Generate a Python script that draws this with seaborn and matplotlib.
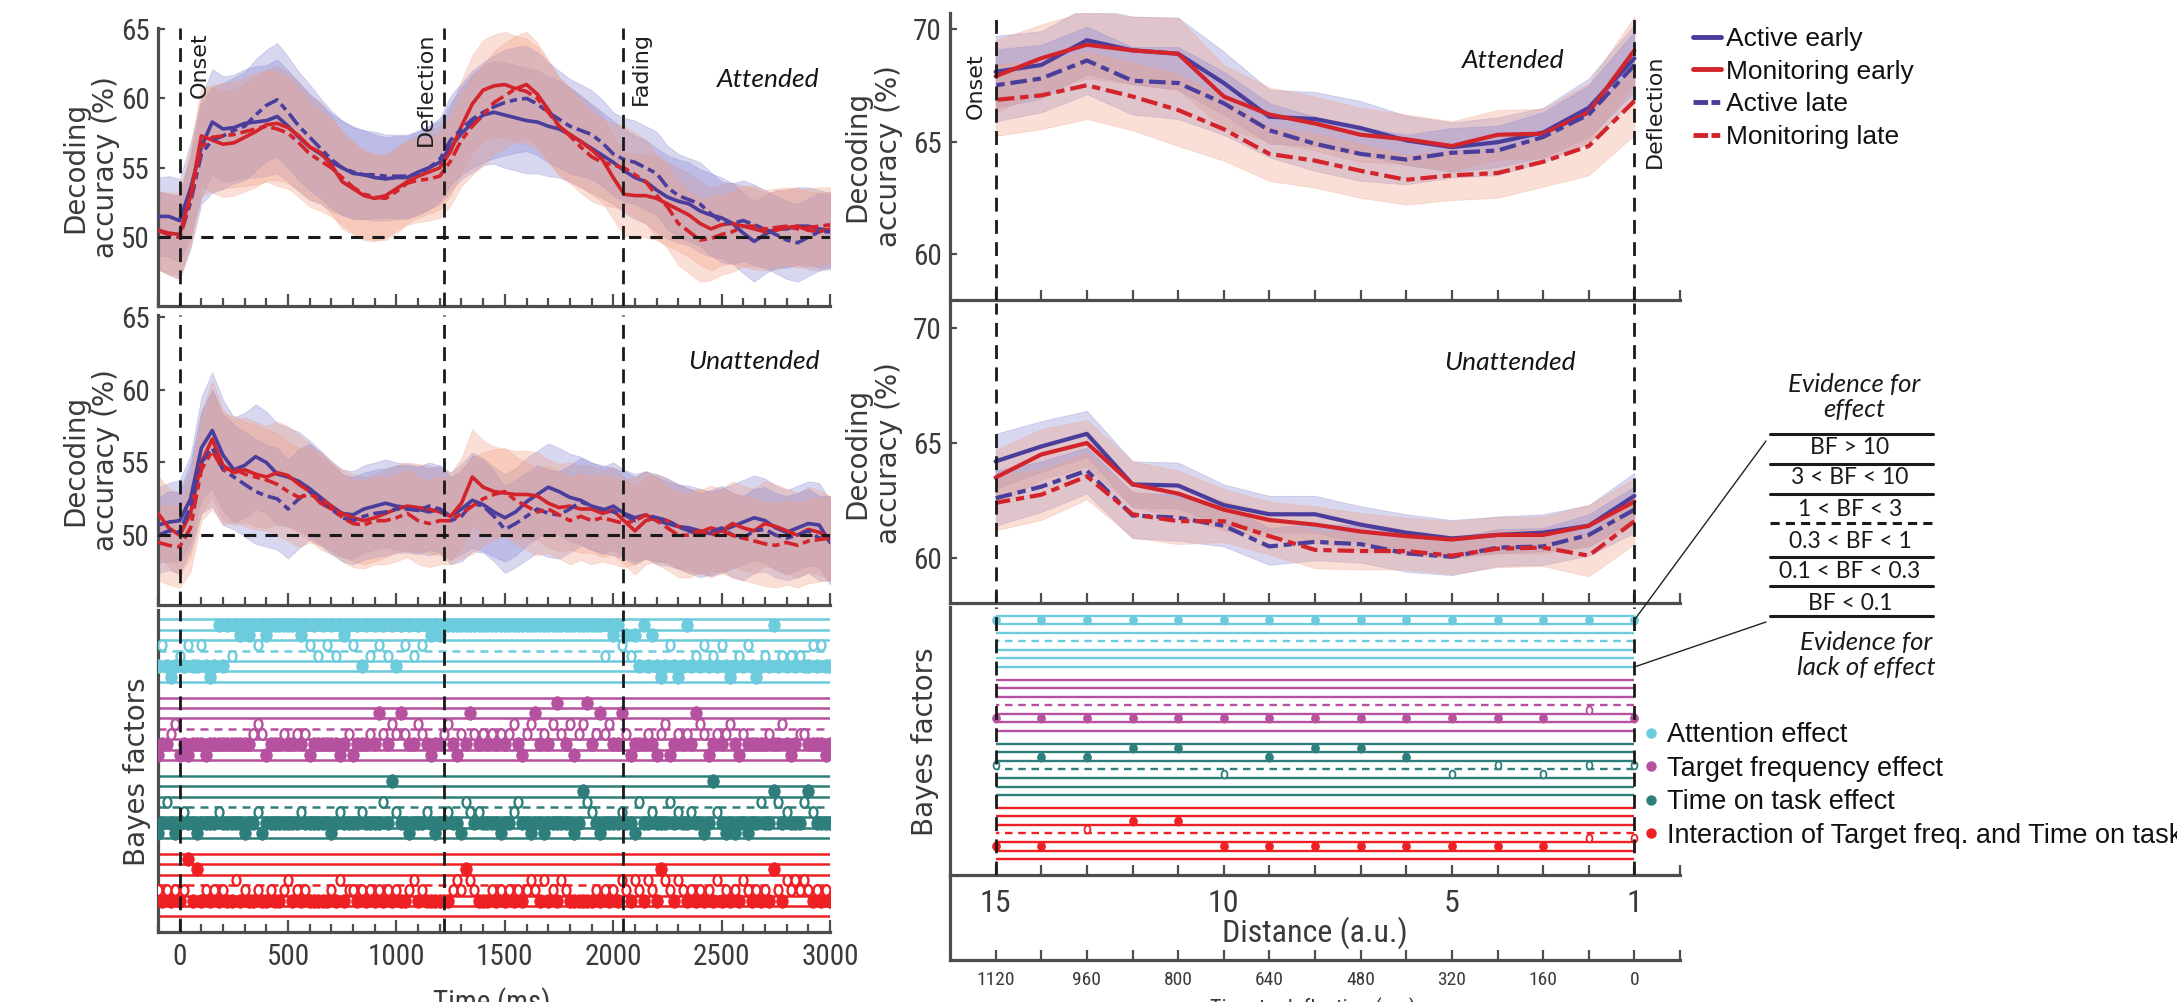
import numpy as np
import pandas as pd
import matplotlib
matplotlib.use("Agg")
import matplotlib.pyplot as plt
from matplotlib import font_manager
from matplotlib.path import Path
from matplotlib.lines import Line2D
from matplotlib.patches import ConnectionPatch
from matplotlib.ticker import MultipleLocator
import seaborn as sns

# ---------------------------------------------------------------- data
# decoding accuracy (%) over time, 50 ms grid from -100 to 3000 ms
time_ms = np.arange(-100, 3001, 50)

att_active_early = [51.5, 51.5, 51.2, 53.5, 56.5, 58.3, 57.8, 57.9, 58.2, 58.3,
                    58.4, 58.7, 58.0, 57.2, 56.5, 56.0, 55.4, 55.0, 54.6, 54.5,
                    54.3, 54.2, 54.3, 54.3, 54.7, 55.0, 55.4, 56.5, 57.5, 58.2,
                    58.8, 59.0, 58.8, 58.6, 58.4, 58.3, 58.0, 57.8, 57.4, 56.9,
                    56.4, 55.9, 55.4, 54.8, 54.3, 54.0, 53.4, 52.9, 52.6, 52.4,
                    51.9, 51.6, 51.4, 51.0, 50.3, 49.7, 50.2, 50.6, 50.6, 50.8,
                    50.8, 50.6, 50.5]
att_monitor_early = [50.5, 50.3, 50.2, 53.0, 57.3, 57.0, 56.7, 56.8, 57.2, 57.6,
                     58.1, 58.2, 57.9, 57.3, 56.5, 56.1, 55.2, 54.0, 53.5, 53.0,
                     52.8, 53.0, 53.5, 54.0, 54.4, 54.7, 55.0, 56.2, 58.0, 59.6,
                     60.6, 60.9, 61.0, 60.7, 61.0, 60.3, 59.2, 58.0, 57.4, 56.9,
                     56.3, 55.6, 54.3, 53.1, 53.0, 53.0, 52.8, 52.4, 52.0, 51.6,
                     51.0, 50.6, 50.9, 51.0, 50.8, 50.6, 50.4, 50.5, 50.7, 50.8,
                     50.5, 50.4, 50.6]
att_active_late = [50.5, 50.2, 50.0, 52.5, 56.0, 57.0, 57.3, 57.7, 58.0, 58.8,
                   59.5, 59.9, 59.0, 58.0, 57.2, 56.4, 55.6, 55.0, 54.7, 54.5,
                   54.5, 54.4, 54.4, 54.4, 54.6, 55.0, 55.6, 57.0, 57.8, 58.5,
                   59.0, 59.4, 59.7, 59.9, 60.0, 59.6, 59.0, 58.5, 58.0, 57.7,
                   57.4, 56.8, 56.0, 55.6, 55.4, 55.0, 54.6, 53.6, 53.0, 52.7,
                   52.4, 51.7, 51.1, 51.0, 51.2, 50.9, 50.6, 50.2, 49.8, 49.6,
                   50.0, 50.4, 50.4]
att_monitor_late = [50.5, 50.2, 50.0, 52.8, 56.5, 57.2, 57.3, 57.4, 57.6, 57.8,
                    58.0, 57.8, 57.5, 56.8, 56.0, 55.5, 55.0, 54.3, 53.6, 53.1,
                    52.9, 52.8, 53.3, 53.9, 54.1, 54.2, 54.4, 55.5, 57.0, 58.0,
                    58.8, 59.7, 60.2, 60.7, 60.5, 60.0, 59.0, 58.0, 57.3, 56.5,
                    55.8, 55.4, 55.2, 55.0, 54.5, 54.0, 53.0, 52.2, 51.0, 50.4,
                    49.8, 49.9, 50.2, 50.4, 50.8, 50.8, 50.6, 50.7, 50.8, 50.6,
                    50.7, 50.8, 50.9]
att_ci = [2.8, 2.9, 3.0, 3.3, 3.6, 3.8, 3.8, 3.8, 3.9, 4.0,
          4.0, 4.1, 4.0, 3.9, 3.8, 3.6, 3.5, 3.4, 3.3, 3.2,
          3.1, 3.0, 3.0, 3.0, 3.0, 3.0, 3.0, 3.2, 3.3, 3.5,
          3.6, 3.7, 3.8, 3.8, 3.8, 3.7, 3.6, 3.5, 3.4, 3.3,
          3.2, 3.1, 3.0, 3.0, 3.0, 3.0, 3.0, 3.0, 3.0, 3.0,
          3.0, 3.0, 2.9, 2.9, 2.9, 2.9, 2.8, 2.8, 2.8, 2.8,
          2.8, 2.8, 2.7]

una_active_early = [50.7, 50.9, 51.0, 52.5, 56.0, 57.2, 55.5, 54.5, 54.8, 55.4,
                    55.0, 54.2, 54.0, 53.7, 53.2, 52.6, 52.0, 51.5, 51.4, 51.8,
                    52.0, 52.2, 52.0, 51.9, 51.8, 51.6, 51.8, 51.3, 51.8, 52.4,
                    52.1, 51.6, 51.2, 51.6, 52.3, 52.8, 53.3, 53.0, 52.6, 52.4,
                    52.0, 51.7, 52.0, 51.5, 51.2, 51.4, 51.0, 50.8, 50.6, 50.5,
                    50.3, 50.1, 50.3, 50.6, 50.9, 51.2, 51.0, 50.5, 50.2, 50.5,
                    50.8, 50.7, 49.5]
una_monitor_early = [51.5, 50.5, 50.0, 51.5, 55.0, 56.6, 54.8, 54.3, 54.5, 54.2,
                     54.0, 54.3, 54.1, 53.5, 53.0, 52.2, 51.8, 51.5, 51.2, 51.0,
                     51.2, 51.5, 51.8, 52.0, 51.9, 51.8, 51.6, 51.3, 52.2, 54.0,
                     53.3, 53.0, 52.9, 52.8, 52.8, 52.7, 52.2, 51.9, 52.0, 51.8,
                     51.8, 51.5, 51.7, 51.0, 50.3, 51.0, 51.2, 51.0, 50.6, 50.3,
                     50.2, 50.5, 50.3, 50.8, 50.5, 50.3, 50.8, 50.6, 50.3, 50.0,
                     50.4, 50.2, 49.8]
una_active_late = [50.0, 50.3, 50.2, 52.0, 55.0, 56.0, 54.5, 54.0, 53.5, 53.0,
                   52.7, 52.5, 51.8, 52.5, 53.0, 52.5, 51.8, 51.2, 51.0, 51.3,
                   51.5, 51.6, 51.8, 51.8, 51.7, 52.0, 51.8, 51.0, 51.3, 52.2,
                   52.0, 51.3, 50.4, 50.8, 51.3, 51.8, 51.5, 51.4, 51.8, 52.3,
                   52.0, 51.8, 51.6, 51.4, 51.0, 51.4, 51.2, 51.0, 50.6, 50.3,
                   50.0, 50.2, 50.5, 50.0, 49.8, 50.3, 50.4, 50.0, 49.8, 50.0,
                   50.3, 49.8, 49.8]
una_monitor_late = [49.5, 49.3, 49.2, 50.5, 54.5, 55.8, 54.5, 54.6, 54.2, 54.0,
                    53.8, 53.5, 53.0, 52.6, 52.8, 52.5, 52.0, 51.2, 50.8, 50.7,
                    51.0, 51.0, 51.2, 51.5, 51.0, 50.8, 51.0, 51.0, 51.5, 52.0,
                    52.5, 52.8, 53.0, 52.4, 52.0, 51.6, 51.8, 51.4, 51.0, 51.3,
                    51.0, 51.2, 51.0, 50.8, 51.0, 51.4, 51.0, 50.5, 50.0, 50.0,
                    50.3, 50.0, 50.3, 50.0, 49.8, 49.6, 49.4, 49.3, 49.5, 49.3,
                    49.6, 49.7, 49.8]
una_ci = [2.6, 2.7, 2.8, 3.0, 3.5, 4.0, 3.8, 3.6, 3.6, 3.6,
          3.5, 3.5, 3.4, 3.4, 3.3, 3.2, 3.1, 3.0, 3.0, 3.0,
          3.0, 3.0, 3.0, 3.0, 3.0, 3.0, 3.0, 3.0, 3.1, 3.3,
          3.2, 3.1, 3.0, 3.0, 3.0, 3.0, 3.0, 3.0, 3.0, 3.0,
          3.0, 3.0, 3.0, 3.0, 3.0, 3.0, 3.0, 2.9, 2.9, 2.9,
          2.9, 2.9, 2.9, 2.9, 2.9, 2.9, 2.9, 2.9, 2.9, 2.9,
          2.9, 2.9, 2.9]

# decoding accuracy (%) by distance to deflection (a.u.)
distance = [15, 14, 13, 12, 11, 10, 9, 8, 7, 6, 5, 4, 3, 2, 1]
ratt_active_early = [68.1, 68.4, 69.5, 69.05, 68.9, 67.6, 66.1, 66.0, 65.6, 65.05, 64.75, 64.97, 65.4, 66.5, 68.7]
ratt_monitor_early = [67.9, 68.7, 69.3, 69.05, 68.9, 67.0, 66.2, 65.8, 65.3, 65.1, 64.8, 65.3, 65.35, 66.3, 69.05]
ratt_active_late = [67.5, 67.8, 68.6, 67.7, 67.6, 66.7, 65.5, 64.9, 64.45, 64.2, 64.5, 64.6, 65.2, 66.2, 68.4]
ratt_monitor_late = [66.85, 67.05, 67.5, 67.0, 66.4, 65.55, 64.45, 64.15, 63.7, 63.3, 63.5, 63.6, 64.1, 64.8, 66.8]
ratt_ci = [1.6, 1.5, 1.5, 1.5, 1.6, 1.4, 1.2, 1.2, 1.2, 1.1, 1.1, 1.1, 1.1, 1.3, 1.5]

runa_active_early = [64.2, 64.85, 65.4, 63.2, 63.15, 62.3, 61.9, 61.9, 61.45, 61.1, 60.85, 61.0, 61.1, 61.4, 62.7]
runa_monitor_early = [63.5, 64.5, 65.0, 63.2, 62.8, 62.1, 61.65, 61.45, 61.15, 60.95, 60.8, 61.0, 61.0, 61.4, 62.45]
runa_active_late = [62.6, 63.1, 63.8, 61.85, 61.75, 61.4, 60.5, 60.7, 60.6, 60.2, 60.05, 60.45, 60.5, 61.0, 62.1]
runa_monitor_late = [62.4, 62.75, 63.55, 61.9, 61.6, 61.6, 60.95, 60.35, 60.3, 60.3, 60.1, 60.4, 60.45, 60.1, 61.6]
runa_ci = [1.2, 1.1, 1.0, 1.0, 1.0, 0.9, 0.8, 0.8, 0.8, 0.8, 0.8, 0.8, 0.8, 0.9, 1.0]

# Bayes-factor category per sample:
# 1: BF>10, 2: 3<BF<10, 3: 1<BF<3, 4: 0.3<BF<1, 5: 0.1<BF<0.3, 6: BF<0.1
bf_time_ms = np.arange(-100, 3001, 20)
bf_attention = ("5356545355" "3565151412" "1213121111" "1112131413" "1412131514"
                "1314151314" "1312121111" "1111111111" "1111111111" "1111111111"
                "1114121324" "2515256535" "6515453545" "3565453565" "4515454545"
                "535355")
bf_target = ("6554365655" "5655555555" "5543465554" "5545465555" "5565465554"
             "5245342455" "3456554356" "4524545454" "5435643254" "5314536431"
             "5424355246" "5554564365" "4545234654" "5435645555" "5455356544"
             "555565")
bf_time_on_task = ("6535654556" "5555455555" "6554655555" "5554555555" "6545555455"
                   "5535145565" "5545655455" "6345455556" "5543556556" "5555556523"
                   "4565555455" "6355455535" "4554556514" "5656556553" "5523545553"
                   "245555")
bf_interaction = ("4545454152" "5454545535" "4554554554" "3545455555" "4535445454"
                  "5454545543" "5455555543" "4234555454" "5454543453" "5453455555"
                  "5454545345" "3453452345" "3454545453" "5454534545" "4524534343"
                  "454545")

bfd_attention = [1, 1, 1, 1, 1, 1, 1, 1, 1, 1, 1, 1, 1, 1, 1]
bfd_target = [5, 5, 5, 5, 5, 5, 5, 5, 5, 5, 5, 5, 5, 4, 5]
bfd_time_on_task = [3, 2, 2, 1, 1, 4, 2, 1, 1, 2, 4, 3, 4, 3, 3]
bfd_interaction = [5, 5, 3, 2, 2, 5, 5, 5, 5, 5, 5, 5, 5, 4, 4]

time_event_ms = [0, 1220, 2045]
event_labels = ["Onset", "Deflection", "Fading"]
time_ticks_ms = [0, 500, 1000, 1500, 2000, 2500, 3000]
dist_tick_pos = [15, 13, 11, 9, 7, 5, 3, 1]
time_to_deflection = [1120, 960, 800, 640, 480, 320, 160, 0]
dist_labels = [15, 10, 5, 1]

conditions = ["Active early", "Monitoring early", "Active late", "Monitoring late"]
effects = ["Attention effect", "Target frequency effect", "Time on task effect",
           "Interaction of Target freq. and Time on task"]
bf_rows = ["BF > 10", "3 < BF < 10", "1 < BF < 3", "0.3 < BF < 1", "0.1 < BF < 0.3", "BF < 0.1"]

# ---------------------------------------------------------------- fonts & style
sns.set_theme(style="white")
entries = font_manager.fontManager.ttflist
names = {f.name for f in entries}

NARROW, NARROW_STRETCH, NSCALE = None, "normal", 1.0
for n in ["Liberation Sans Narrow", "Arial Narrow", "Roboto Condensed",
          "Open Sans Condensed", "DejaVu Sans Condensed", "Noto Sans Condensed"]:
    if n in names:
        NARROW = n
        break
if NARROW is None:
    for n in ["Roboto", "Noto Sans", "Open Sans", "DejaVu Sans", "Liberation Sans"]:
        if any(f.name == n and str(f.stretch) in ("condensed", "semi-condensed",
                                                   "extra-condensed") for f in entries):
            NARROW, NARROW_STRETCH = n, "condensed"
            break
if NARROW is None:
    NARROW = "Liberation Sans" if "Liberation Sans" in names else "DejaVu Sans"
    NSCALE = 0.86

ARIAL = "Liberation Sans" if "Liberation Sans" in names else "DejaVu Sans"
CAL = "Lato" if "Lato" in names else "DejaVu Sans"
GOTHIC = "DejaVu Sans"
plt.rcParams["font.family"] = [NARROW, "DejaVu Sans"]
plt.rcParams["font.stretch"] = NARROW_STRETCH


def nfs(size):
    return size * NSCALE


SPINE = "#4d4d4d"
TXT = "#3a3a3a"
ACTIVE = "#4a3d9b"
MONITOR = "#d3232b"
ACTIVE_FILL = "#8787d2"
MONITOR_FILL = "#f2a084"
EFFECT_COLORS = ["#6ccbdc", "#b5519f", "#2e7f7c", "#ee2024"]

line_colors = {"Active early": ACTIVE, "Monitoring early": MONITOR,
               "Active late": ACTIVE, "Monitoring late": MONITOR}
fill_colors = {"Active early": ACTIVE_FILL, "Monitoring early": MONITOR_FILL,
               "Active late": ACTIVE_FILL, "Monitoring late": MONITOR_FILL}
line_dashes = {"Active early": "", "Monitoring early": "",
               "Active late": (4, 1.4, 2, 1.4), "Monitoring late": (4, 1.4, 2, 1.4)}

W, H = 2177, 1002
fig = plt.figure(figsize=(W / 100, H / 100), dpi=100)


def box(x0, y0, x1, y1):
    return [x0 / W, 1 - y1 / H, (x1 - x0) / W, (y1 - y0) / H]


def style_axes(ax):
    for side in ("top", "right"):
        ax.spines[side].set_visible(False)
    for side in ("left", "bottom"):
        ax.spines[side].set_color(SPINE)
        ax.spines[side].set_linewidth(2.3)
    ax.set_facecolor("none")
    ax.grid(False)


def decoding_panel(ax, x, curves, ci, lw):
    ci = np.asarray(ci, float)
    for name in conditions:
        y = np.asarray(curves[name], float)
        ax.fill_between(x, y - ci, y + ci, color=fill_colors[name], alpha=0.33,
                        lw=0.6, edgecolor=fill_colors[name], zorder=1)
    df = pd.concat([pd.DataFrame({"x": x, "acc": curves[n], "condition": n})
                    for n in conditions], ignore_index=True)
    sns.lineplot(data=df, x="x", y="acc", hue="condition", style="condition",
                 hue_order=conditions, style_order=conditions,
                 palette=line_colors, dashes=line_dashes, lw=lw,
                 errorbar=None, legend=False, ax=ax, zorder=3)
    ax.set_xlabel("")
    ax.set_ylabel("")


circ = Path.unit_circle()
oval_filled = Path(circ.vertices * np.array([0.85, 1.0]), circ.codes)
oval_open = Path(circ.vertices * np.array([0.75, 1.0]), circ.codes)


def bf_panel(ax, x, series, x0, x1, s_filled, s_open, lw, open_lw):
    x = np.asarray(x, float)
    for g, (levels, color) in enumerate(zip(series, EFFECT_COLORS)):
        base = g * 7.5
        for k in range(7):
            ax.hlines(-(base + k), x0, x1, color=color, lw=lw,
                      linestyles=(0, (3.2, 2.4)) if k == 3 else "solid", zorder=1)
        lv = np.array([int(c) for c in levels])
        y = -(base + lv - 0.5)
        filled = np.isin(lv, [1, 2, 5, 6])
        if filled.any():
            sns.scatterplot(x=x[filled], y=y[filled], ax=ax, marker=oval_filled,
                            s=s_filled, color=color, edgecolor=color, linewidth=0.5,
                            zorder=3, legend=False)
        if (~filled).any():
            sns.scatterplot(x=x[~filled], y=y[~filled], ax=ax, marker=oval_open,
                            s=s_open, color="white", edgecolor=color, linewidth=open_lw,
                            zorder=3, legend=False)
    ax.set_xlabel("")
    ax.set_ylabel("")


def vdash(ax, xs):
    for xv in xs:
        ax.axvline(xv, color="#1a1a1a", lw=2.0, ls=(0, (5, 3)), zorder=5)


def side_label(ax, x, y, text):
    ax.text(x, y, text, transform=ax.transAxes, rotation=90, ha="center", va="center",
            multialignment="center", family=GOTHIC, fontstretch="normal",
            fontsize=20, color=TXT, linespacing=1.15)


# ---------------------------------------------------------------- left column (time)
ax_att = fig.add_axes(box(158, 28, 830, 306))
ax_una = fig.add_axes(box(158, 315, 830, 605))
ax_bfl = fig.add_axes(box(158, 610, 830, 932))

decoding_panel(ax_att, time_ms,
               dict(zip(conditions, [att_active_early, att_monitor_early,
                                     att_active_late, att_monitor_late])), att_ci, 2.6)
decoding_panel(ax_una, time_ms,
               dict(zip(conditions, [una_active_early, una_monitor_early,
                                     una_active_late, una_monitor_late])), una_ci, 2.6)
bf_panel(ax_bfl, bf_time_ms, [bf_attention, bf_target, bf_time_on_task, bf_interaction],
         -100, 3000, 96, 58, 1.8, 1.7)

ax_att.set_ylim(45.05, 65.07)
ax_una.set_ylim(45.2, 65.14)
ax_bfl.set_ylim(-30.0, 0.9)
for ax in (ax_att, ax_una, ax_bfl):
    style_axes(ax)
    ax.set_xlim(-100, 3000)
    ax.xaxis.set_major_locator(MultipleLocator(500))
    ax.xaxis.set_minor_locator(MultipleLocator(100))
    ax.tick_params(axis="x", which="major", direction="in", length=9, width=1.6,
                   color=SPINE, bottom=True, labelsize=nfs(21), labelcolor=TXT, pad=8)
    ax.tick_params(axis="x", which="minor", direction="in", length=5.5, width=1.6,
                   color=SPINE, bottom=True)
    vdash(ax, time_event_ms)
for ax in (ax_att, ax_una):
    ax.set_yticks([50, 55, 60, 65])
    ax.tick_params(axis="y", direction="in", length=5, width=1.6, color=SPINE, left=True,
                   labelsize=nfs(21), labelcolor=TXT, pad=6)
    ax.tick_params(axis="x", labelbottom=False)
    ax.axhline(50, color="#1a1a1a", lw=2.2, ls=(0, (4, 3)), zorder=5)
    side_label(ax, -0.1, 0.5, "Decoding\naccuracy (%)")
ax_bfl.set_yticks([])
ax_bfl.set_xticks(time_ticks_ms)
side_label(ax_bfl, -0.031, 0.497, "Bayes factors")

event_offsets = [92, -83, 83]
for tx, lab, off in zip(time_event_ms, event_labels, event_offsets):
    ax_att.text(tx + off, 0.985, lab, transform=ax_att.get_xaxis_transform(),
                rotation=90, ha="center", va="top", family=GOTHIC, fontstretch="normal",
                fontsize=16, color="#1f1f1f")
ax_att.text(0.985, 0.813, "Attended", transform=ax_att.transAxes, ha="right",
            va="center", family=CAL, fontstretch="normal", style="italic",
            fontsize=19, color="#141414")
ax_una.text(0.985, 0.841, "Unattended", transform=ax_una.transAxes, ha="right",
            va="center", family=CAL, fontstretch="normal", style="italic",
            fontsize=19, color="#141414")
fig.text(492 / W, 1 - 1003 / H, "Time (ms)", ha="center", va="center",
         fontsize=nfs(21), color=TXT)

# ---------------------------------------------------------------- right column (distance)
ax_ratt = fig.add_axes(box(950, 13, 1680, 300))
ax_runa = fig.add_axes(box(950, 303, 1680, 603))
ax_bfr = fig.add_axes(box(950, 607, 1680, 875))
ax_dist = fig.add_axes(box(950, 875, 1680, 960))

decoding_panel(ax_ratt, np.array(distance, float),
               dict(zip(conditions, [ratt_active_early, ratt_monitor_early,
                                     ratt_active_late, ratt_monitor_late])), ratt_ci, 3.0)
decoding_panel(ax_runa, np.array(distance, float),
               dict(zip(conditions, [runa_active_early, runa_monitor_early,
                                     runa_active_late, runa_monitor_late])), runa_ci, 3.0)
bf_panel(ax_bfr, distance, [bfd_attention, bfd_target, bfd_time_on_task, bfd_interaction],
         1, 15, 44, 32, 1.7, 1.3)

ax_ratt.set_ylim(57.96, 70.71)
ax_runa.set_ylim(58.04, 71.09)
ax_bfr.set_ylim(-30.36, 1.02)
for ax in (ax_ratt, ax_runa, ax_bfr, ax_dist):
    style_axes(ax)
    ax.set_xlim(16, 0)
    ax.set_xticks(range(0, 16))
    ax.tick_params(axis="x", which="major", direction="in", length=7, width=1.6,
                   color=SPINE, bottom=True, labelbottom=False)
for ax in (ax_ratt, ax_runa):
    ax.set_yticks([60, 65, 70])
    ax.tick_params(axis="y", direction="in", length=5, width=1.6, color=SPINE, left=True,
                   labelsize=nfs(21), labelcolor=TXT, pad=6)
    side_label(ax, -0.105, 0.5, "Decoding\naccuracy (%)")
for ax in (ax_ratt, ax_runa, ax_bfr):
    vdash(ax, [distance[0], distance[-1]])
ax_bfr.set_yticks([])
side_label(ax_bfr, -0.034, 0.496, "Bayes factors")

ax_ratt.text(distance[0] + 0.44, 0.861, "Onset", transform=ax_ratt.get_xaxis_transform(),
             rotation=90, ha="center", va="top", family=GOTHIC, fontstretch="normal",
             fontsize=16, color="#1f1f1f")
ax_ratt.text(distance[-1] - 0.44, 0.854, "Deflection", transform=ax_ratt.get_xaxis_transform(),
             rotation=90, ha="center", va="top", family=GOTHIC, fontstretch="normal",
             fontsize=16, color="#1f1f1f")
ax_ratt.text(0.771, 0.836, "Attended", transform=ax_ratt.transAxes, ha="center",
             va="center", family=CAL, fontstretch="normal", style="italic",
             fontsize=19, color="#141414")
ax_runa.text(0.767, 0.803, "Unattended", transform=ax_runa.transAxes, ha="center",
             va="center", family=CAL, fontstretch="normal", style="italic",
             fontsize=19, color="#141414")

# distance / time-to-deflection axis
ax_dist.set_ylim(0, 1)
ax_dist.set_yticks([])
ax_dist.set_xticks(dist_tick_pos)
ax_dist.set_xticklabels([str(v) for v in time_to_deflection])
ax_dist.set_xticks(range(0, 16), minor=True)
ax_dist.tick_params(axis="x", which="both", direction="in", length=7, width=1.6,
                    color=SPINE, bottom=True)
ax_dist.tick_params(axis="x", which="major", labelbottom=True, labelsize=nfs(14),
                    labelcolor=TXT, pad=8)
for d in dist_labels:
    ax_dist.text(d, 0.67, str(d), transform=ax_dist.get_xaxis_transform(), ha="center",
                 va="center", fontsize=nfs(23), color=TXT)
ax_dist.text(8, 0.32, "Distance (a.u.)", transform=ax_dist.get_xaxis_transform(),
             ha="center", va="center", fontsize=nfs(23), color=TXT)
fig.text(1313 / W, 1 - 1009 / H, "Time to deflection (ms)", ha="center", va="center",
         fontsize=nfs(16), color=TXT)

# ---------------------------------------------------------------- legends
cond_handles = [Line2D([], [], color=line_colors[n], lw=3.5,
                       ls="-" if line_dashes[n] == "" else (0, (3, 0.7, 1.8, 0.7)))
                for n in conditions]
fig.legend(cond_handles, conditions, loc="upper left", bbox_to_anchor=(1693 / W, 1 - 27 / H),
           frameon=False, prop={"family": ARIAL, "size": 19, "stretch": "normal"},
           handlelength=1.05, handletextpad=0.2, labelspacing=0.33, borderpad=0,
           borderaxespad=0, labelcolor="#111111")

eff_handles = [Line2D([], [], marker="o", ls="none", ms=6.5, mfc=c, mec=c)
               for c in EFFECT_COLORS]
fig.legend(eff_handles, effects, loc="upper left", bbox_to_anchor=(1644 / W, 1 - 722 / H),
           frameon=False, prop={"family": ARIAL, "size": 19.5, "stretch": "normal"},
           handlelength=0.55, handletextpad=0.3, labelspacing=0.28, borderpad=0,
           borderaxespad=0, labelcolor="#111111")

# ---------------------------------------------------------------- Bayes-factor key
key_x0, key_x1 = 1770 / W, 1933 / W
key_lines_px = [434, 464, 494, 523, 557, 586, 616]
for k, ypx in enumerate(key_lines_px):
    fig.add_artist(Line2D([key_x0, key_x1], [1 - ypx / H] * 2, transform=fig.transFigure,
                          color="#1a1a1a", lw=2.2,
                          ls=(0, (3, 2)) if k == 3 else "-"))
key_text_px = [448, 478, 509, 541, 572, 603]
for lab, ypx in zip(bf_rows, key_text_px):
    fig.text(1850 / W, 1 - ypx / H, lab, ha="center", va="center", family=CAL,
             fontstretch="normal", fontsize=16.5, color="#1a1a1a")
fig.text(1854 / W, 1 - 397 / H, "Evidence for\neffect", ha="center", va="center",
         family=CAL, fontstretch="normal", style="italic", fontsize=18.5,
         color="#1a1a1a", linespacing=1.15)
fig.text(1866 / W, 1 - 655 / H, "Evidence for\nlack of effect", ha="center", va="center",
         family=CAL, fontstretch="normal", style="italic", fontsize=18.5,
         color="#1a1a1a", linespacing=1.15)

for (fx, fy), yrow in [((1766, 441), -0.5), ((1766, 622), -6.0)]:
    con = ConnectionPatch(xyA=(fx / W, 1 - fy / H), coordsA=fig.transFigure,
                          xyB=(distance[-1], yrow), coordsB=ax_bfr.transData,
                          color="#222222", lw=1.0)
    fig.add_artist(con)

fig.savefig("out.png", dpi=100)
